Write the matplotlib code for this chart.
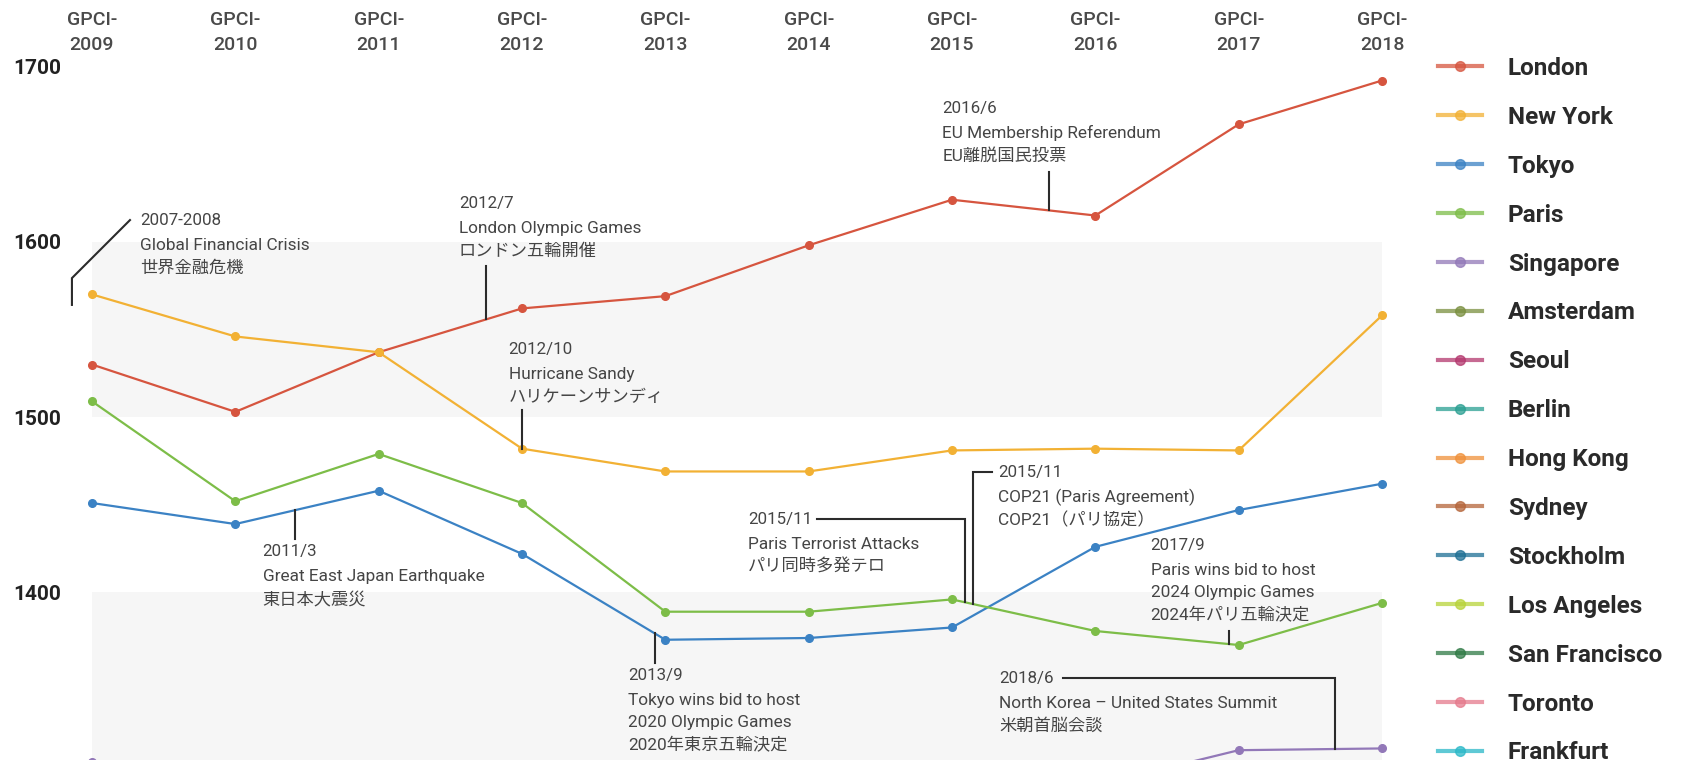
import numpy as np
import matplotlib.pyplot as plt
from matplotlib.lines import Line2D

plt.rcParams['font.family'] = ['Roboto', 'Noto Sans CJK JP', 'DejaVu Sans']

years = [2009, 2010, 2011, 2012, 2013, 2014, 2015, 2016, 2017, 2018]
year_labels = ["GPCI-\n%d" % y for y in years]

london = [1530, 1503, 1537, 1562, 1569, 1598, 1624, 1615, 1667, 1692]
new_york = [1570, 1546, 1537, 1482, 1469, 1469, 1481, 1482, 1481, 1558]
tokyo = [1451, 1439, 1458, 1422, 1373, 1374, 1380, 1426, 1447, 1462]
paris = [1509, 1452, 1479, 1451, 1389, 1389, 1396, 1378, 1370, 1394]
singapore = [1303, 1279, 1267, 1279, 1266, 1279, 1289, 1290, 1310, 1311]

cities = ["London", "New York", "Tokyo", "Paris", "Singapore", "Amsterdam",
          "Seoul", "Berlin", "Hong Kong", "Sydney", "Stockholm",
          "Los Angeles", "San Francisco", "Toronto", "Frankfurt"]
city_colors = ["#d6553f", "#f2b134", "#3b82c4", "#7dbd48", "#9278b8",
               "#7a8f3f", "#b4386e", "#2a9f92", "#f0913a", "#b5653a",
               "#1e6f94", "#b8d33a", "#2f7a45", "#e57a8c", "#2ab8c8"]
series = {"London": london, "New York": new_york, "Tokyo": tokyo,
          "Paris": paris, "Singapore": singapore}

y_ticks = [1300, 1400, 1500, 1600, 1700]
bands = [(1300, 1400), (1500, 1600)]

# event notes: date, text lines, text anchor, leader path, series the leader ends on
events = [
    ("2007-2008", ["Global Financial Crisis", "世界金融危機"], (2009.335, 1612.4),
     [(2009.265, 1612.4), (2008.86, 1579.3), (2008.86, 1564.0)], None),
    ("2012/7", ["London Olympic Games", "ロンドン五輪開催"], (2011.56, 1621.6),
     [(2011.749, 1586.2), (2011.749, None)], "London"),
    ("2012/10", ["Hurricane Sandy", "ハリケーンサンディ"], (2011.907, 1538.3),
     [(2012.0, 1504.0), (2012.0, None)], "New York"),
    ("2016/6", ["EU Membership Referendum", "EU離脱国民投票"], (2014.933, 1676.1),
     [(2015.674, 1640.0), (2015.674, None)], "London"),
    ("2011/3", ["Great East Japan Earthquake", "東日本大震災"], (2010.19, 1423.2),
     [(2010.418, 1430.6), (2010.418, None)], "Tokyo"),
    ("2013/9", ["Tokyo wins bid to host", "2020 Olympic Games", "2020年東京五輪決定"],
     (2012.739, 1352.8), [(2012.926, 1359.6), (2012.926, None)], "Tokyo"),
    ("2015/11", ["Paris Terrorist Attacks", "パリ同時多発テロ"], (2013.577, 1441.6),
     [(2014.057, 1441.6), (2015.091, 1441.6), (2015.091, None)], "Paris"),
    ("2015/11", ["COP21 (Paris Agreement)", "COP21（パリ協定）"], (2015.32, 1468.5),
     [(2015.278, 1468.5), (2015.148, 1468.5), (2015.148, None)], "Paris"),
    ("2017/9", ["Paris wins bid to host", "2024 Olympic Games", "2024年パリ五輪決定"],
     (2016.385, 1426.9), [(2016.933, 1378.0), (2016.933, None)], "Paris"),
    ("2018/6", ["North Korea \u2013 United States Summit", "米朝首脳会談"], (2015.33, 1351.0),
     [(2015.775, 1351.0), (2017.673, 1351.0), (2017.673, None)], "Singapore"),
]

fig = plt.figure(figsize=(16.83, 7.6), dpi=100)
ax = fig.add_axes([92 / 1683, -0.0563, 1290 / 1683, 0.9688])
ax.set_xlim(2009, 2018)
ax.set_ylim(1280, 1700)

for lo, hi in bands:
    ax.axhspan(lo, hi, color="#f6f6f6", lw=0, zorder=0)

for name, color in zip(cities, city_colors):
    if name in series:
        ax.plot(years, series[name], "-o", color=color, lw=1.6, ms=5.5,
                clip_on=False, zorder=3)

for date, lines, (tx, ty), path, target in events:
    xs, ys = [], []
    for px, py in path:
        if py is None:
            py = np.interp(px, years, series[target])
        xs.append(px)
        ys.append(py)
    ax.plot(xs, ys, color="#2b2b2b", lw=1.5, clip_on=False, zorder=4,
            solid_joinstyle="miter")
    ax.annotate(date, (tx, ty), va="center", ha="left", fontsize=12.2,
                color="#454545", annotation_clip=False)
    for i, line in enumerate(lines):
        off = 25 + 22.5 * i
        ax.annotate(line, (tx, ty), xytext=(0, -off * 0.72), textcoords="offset points",
                    va="center", ha="left", fontsize=12.4, color="#454545",
                    annotation_clip=False)

ax.set_yticks(y_ticks)
ax.set_yticklabels([str(v) for v in y_ticks], fontsize=15, fontweight="bold",
                   color="#222222", ha="left")
ax.tick_params(axis="y", length=0, pad=79 * 0.72)

ax.xaxis.tick_top()
ax.set_xticks(years)
ax.set_xticklabels(year_labels, fontsize=14, fontweight="medium", color="#4a4a4a",
                   linespacing=1.5)
ax.tick_params(axis="x", length=0, pad=9)

for s in ax.spines.values():
    s.set_visible(False)
ax.patch.set_alpha(0)

handles = [Line2D([0], [0], color=c, lw=3, alpha=0.75, marker="o", ms=7,
                  markerfacecolor=c, markeredgecolor=c) for c in city_colors]
leg = fig.legend(handles, cities, loc="upper left",
                 bbox_to_anchor=(1438 / 1683, 1 - 57 / 760), frameon=False,
                 borderpad=0, borderaxespad=0, handlelength=1.8,
                 handletextpad=1.07, labelspacing=1.065,
                 prop={"family": "Roboto", "weight": "bold", "size": 17.5})
for t in leg.get_texts():
    t.set_color("#2a2a2a")

fig.savefig("out.png", dpi=100)
